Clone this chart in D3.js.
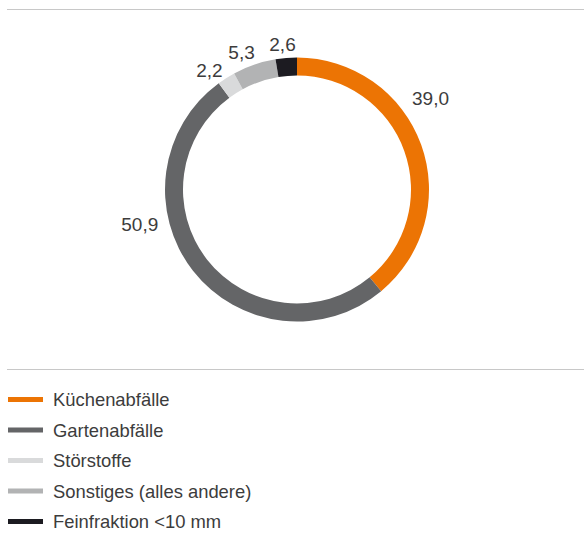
<!DOCTYPE html>
<html>
<head>
<meta charset="utf-8">
<script src="https://cdn.jsdelivr.net/npm/d3@7"></script>
<style>
  html, body { margin: 0; padding: 0; background: #fff; }
  svg { display: block; }
  text { font-family: "Liberation Sans", Arial, sans-serif; fill: #3c3c3c; }
</style>
</head>
<body>
<svg id="chart" width="584" height="555"></svg>
<script>
// Zusammensetzung Bioabfall (Anteile in %)
const categories = ["Küchenabfälle", "Gartenabfälle", "Störstoffe", "Sonstiges (alles andere)", "Feinfraktion <10 mm"];
const values = [39.0, 50.9, 2.2, 5.3, 2.6];
const valueLabels = ["39,0", "50,9", "2,2", "5,3", "2,6"];
const colors = ["#ec7404", "#646567", "#d9dadb", "#b2b3b4", "#1c1b21"];

// Placement of the value labels around the ring
// (degrees clockwise from 12 o'clock, distance from the centre)
const labelAngles = [51.5, 256, -36.3, -22, -5.7];
const labelRadii = [147, 143, 148, 148, 146];
const labelAnchors = ["start", "end", "middle", "middle", "middle"];

const W = 584, H = 555;
const cx = 297, cy = 189.5;
const outerR = 132, innerR = 114;

const svg = d3.select("#chart");

// Rules above the chart and above the legend
svg.append("line")
  .attr("x1", 7).attr("x2", W).attr("y1", 9.5).attr("y2", 9.5)
  .attr("stroke", "#c8c8c8").attr("stroke-width", 1.2);
svg.append("line")
  .attr("x1", 7).attr("x2", W).attr("y1", 369.5).attr("y2", 369.5)
  .attr("stroke", "#c8c8c8").attr("stroke-width", 1.2);

const data = categories.map((c, i) => ({ name: c, value: values[i], label: valueLabels[i], color: colors[i], i }));

const pie = d3.pie().sort(null).value(d => d.value);
const arc = d3.arc().innerRadius(innerR).outerRadius(outerR);

const g = svg.append("g").attr("transform", `translate(${cx},${cy})`);

g.selectAll("path.slice")
  .data(pie(data))
  .join("path")
  .attr("class", "slice")
  .attr("d", arc)
  .attr("fill", d => d.data.color);

// Value labels
g.selectAll("text.val")
  .data(data)
  .join("text")
  .attr("class", "val")
  .attr("x", d => labelRadii[d.i] * Math.sin(labelAngles[d.i] * Math.PI / 180))
  .attr("y", d => -labelRadii[d.i] * Math.cos(labelAngles[d.i] * Math.PI / 180))
  .attr("text-anchor", d => labelAnchors[d.i])
  .attr("dominant-baseline", "central")
  .style("font-size", "19px")
  .text(d => d.label);

// Legend
const legend = svg.append("g").attr("transform", "translate(8,399.5)");
const rowH = 30.5;
const rows = legend.selectAll("g.row")
  .data(data)
  .join("g")
  .attr("class", "row")
  .attr("transform", d => `translate(0,${d.i * rowH})`);

rows.append("rect")
  .attr("x", 0).attr("y", -2.5)
  .attr("width", 35).attr("height", 5)
  .attr("fill", d => d.color);

rows.append("text")
  .attr("x", 45)
  .attr("y", 0)
  .attr("dominant-baseline", "central")
  .style("font-size", "18.4px")
  .text(d => d.name);
</script>
</body>
</html>
